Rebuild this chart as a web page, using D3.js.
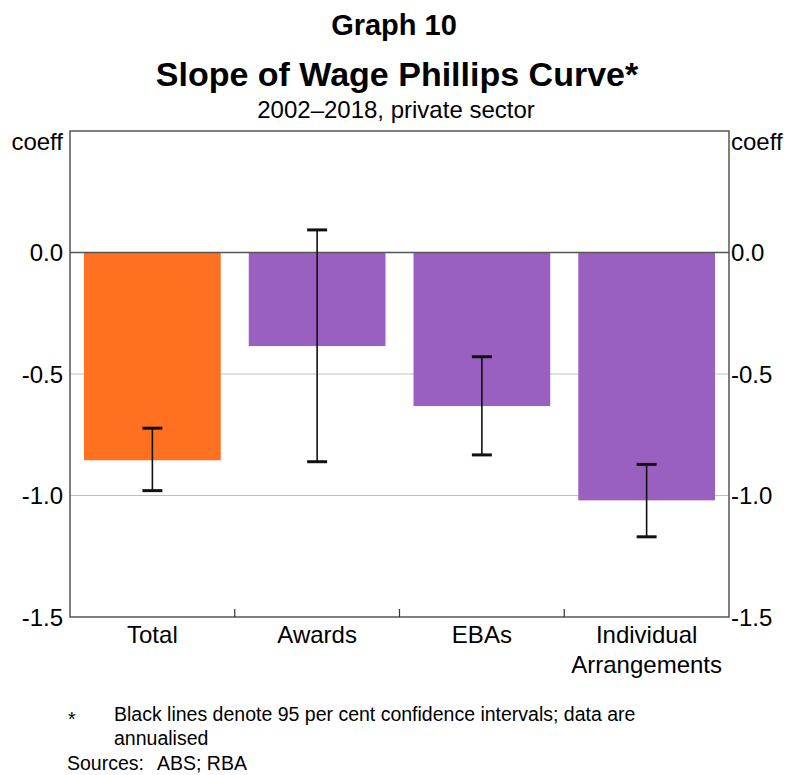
<!DOCTYPE html>
<html>
<head>
<meta charset="utf-8">
<script src="https://cdn.jsdelivr.net/npm/d3@7"></script>
<style>
  body { margin: 0; background: #fff; }
  svg { font-family: "Liberation Sans", Arial, sans-serif; }
</style>
</head>
<body>
<svg id="chart" width="788" height="775"></svg>
<script>
// Slope coefficients and 95% confidence intervals by pay-setting method
const categories = ["Total", "Awards", "EBAs", "Individual\nArrangements"];
const coefficients = [-0.855, -0.385, -0.632, -1.02];
const ciLower = [-0.98, -0.861, -0.833, -1.17];
const ciUpper = [-0.723, 0.093, -0.429, -0.872];
const barColors = ["#ff7020", "#9960c0", "#9960c0", "#9960c0"];
const yTicks = [0.0, -0.5, -1.0, -1.5];
const yTickLabels = ["0.0", "-0.5", "-1.0", "-1.5"];

const svg = d3.select("#chart");
const margin = { left: 70, right: 59, top: 131, bottom: 158 };
const W = 788, H = 775;
const x0 = margin.left, x1 = W - margin.right;
const y0 = margin.top, y1 = H - margin.bottom;

const x = d3.scaleBand().domain(categories).range([x0, x1]).paddingInner(0.17).paddingOuter(0.085);
const y = d3.scaleLinear().domain([-1.5, 0.5]).range([y1, y0]);

// Titles
svg.append("text").attr("x", W / 2).attr("y", 35).attr("text-anchor", "middle")
  .attr("font-size", 29).attr("font-weight", "bold").text("Graph 10");
svg.append("text").attr("x", W / 2 + 3).attr("y", 86).attr("text-anchor", "middle")
  .attr("font-size", 34).attr("font-weight", "bold").text("Slope of Wage Phillips Curve*");
svg.append("text").attr("x", W / 2 + 2).attr("y", 118).attr("text-anchor", "middle")
  .attr("font-size", 24).text("2002–2018, private sector");

// Horizontal gridlines
svg.append("g").selectAll("line").data(yTicks.filter(d => d !== 0 && d !== -1.5)).join("line")
  .attr("x1", x0).attr("x2", x1).attr("y1", d => y(d)).attr("y2", d => y(d))
  .attr("stroke", "#c0c0c0").attr("stroke-width", 1);

// Bars
svg.append("g").selectAll("rect").data(categories).join("rect")
  .attr("x", d => x(d)).attr("width", x.bandwidth())
  .attr("y", y(0)).attr("height", (d, i) => y(coefficients[i]) - y(0))
  .attr("fill", (d, i) => barColors[i]);

// Zero line
svg.append("line").attr("x1", x0).attr("x2", x1).attr("y1", y(0)).attr("y2", y(0))
  .attr("stroke", "#555").attr("stroke-width", 1.5);

// Confidence intervals
const eb = svg.append("g").attr("stroke", "#111");
categories.forEach((c, i) => {
  const cx = x(c) + x.bandwidth() / 2;
  eb.append("line").attr("x1", cx).attr("x2", cx).attr("y1", y(ciUpper[i])).attr("y2", y(ciLower[i]))
    .attr("stroke-width", 1.6);
  [ciUpper[i], ciLower[i]].forEach(v => {
    eb.append("line").attr("x1", cx - 10).attr("x2", cx + 10).attr("y1", y(v)).attr("y2", y(v))
      .attr("stroke-width", 3);
  });
});

// Frame
svg.append("rect").attr("x", x0).attr("y", y0).attr("width", x1 - x0).attr("height", y1 - y0)
  .attr("fill", "none").attr("stroke", "#555").attr("stroke-width", 1.5);

// Category separators on the bottom axis
const seps = categories.slice(1).map(c => x(c) - x.step() * x.paddingInner() / 2);
svg.append("g").selectAll("line").data(seps).join("line")
  .attr("x1", d => d).attr("x2", d => d).attr("y1", y1).attr("y2", y1 - 8)
  .attr("stroke", "#333").attr("stroke-width", 1.2);

// Y axis labels, both sides
svg.append("g").selectAll("text").data(yTicks).join("text")
  .attr("x", x0 - 7).attr("y", d => y(d)).attr("dy", "0.36em").attr("text-anchor", "end")
  .attr("font-size", 24).text((d, i) => yTickLabels[i]);
svg.append("g").selectAll("text").data(yTicks).join("text")
  .attr("x", x1 + 2).attr("y", d => y(d)).attr("dy", "0.36em").attr("text-anchor", "start")
  .attr("font-size", 24).text((d, i) => yTickLabels[i]);
svg.append("text").attr("x", x0 - 7).attr("y", y0 + 19).attr("text-anchor", "end")
  .attr("font-size", 24).text("coeff");
svg.append("text").attr("x", x1 + 2).attr("y", y0 + 19).attr("text-anchor", "start")
  .attr("font-size", 24).text("coeff");

// Category labels
categories.forEach(c => {
  const t = svg.append("text").attr("x", x(c) + x.bandwidth() / 2).attr("y", y1 + 26)
    .attr("text-anchor", "middle").attr("font-size", 24);
  c.split("\n").forEach((line, j) => {
    t.append("tspan").attr("x", x(c) + x.bandwidth() / 2).attr("dy", j ? 30 : 0).text(line);
  });
});

// Footnotes
svg.append("text").attr("x", 68).attr("y", 726).attr("font-size", 19.5).text("*");
svg.append("text").attr("x", 114).attr("y", 721).attr("font-size", 19.5)
  .text("Black lines denote 95 per cent confidence intervals; data are");
svg.append("text").attr("x", 114).attr("y", 745).attr("font-size", 19.5).text("annualised");
svg.append("text").attr("x", 67).attr("y", 770).attr("font-size", 19.5).text("Sources:");
svg.append("text").attr("x", 157).attr("y", 770).attr("font-size", 19.5).text("ABS; RBA");
</script>
</body>
</html>
